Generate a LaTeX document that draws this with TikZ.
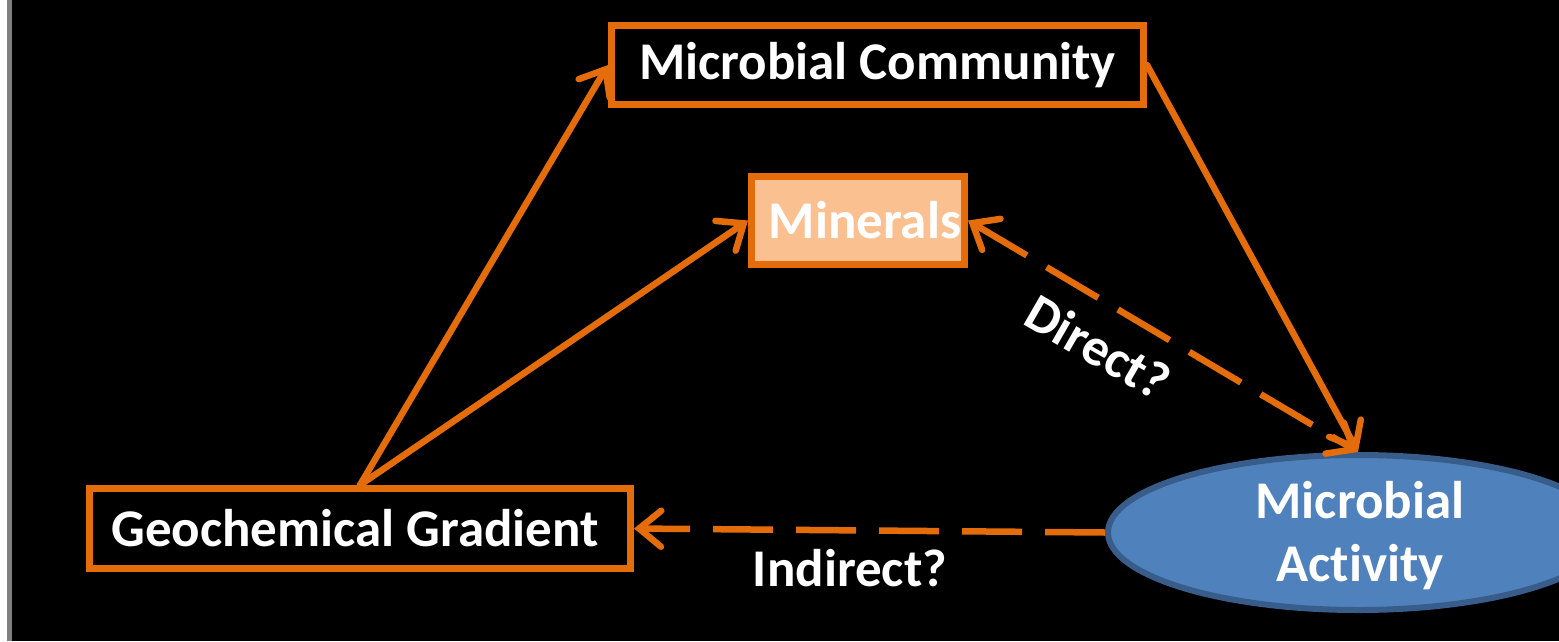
\documentclass[tikz,border=0pt]{standalone}
\usepackage{fontspec}
\setmainfont{Carlito}[Ligatures={NoCommon}]
\usetikzlibrary{arrows.meta,shapes.geometric}
\definecolor{orng}{RGB}{228,108,10}
\definecolor{minfill}{RGB}{250,192,144}
\definecolor{actfill}{RGB}{79,129,189}
\definecolor{actline}{RGB}{56,93,138}
\definecolor{edgegray}{RGB}{128,128,128}
\tikzset{
  box/.style={draw=orng, line width=7pt, fill=black, rectangle, inner sep=0pt,
    text=white, font=\fontsize{53}{63}\selectfont\bfseries},
  actv/.style={draw=actline, line width=6pt, fill=actfill, ellipse, inner sep=0pt,
    minimum width=500pt, minimum height=155pt},
  txt/.style={text=white, font=\fontsize{53}{63}\selectfont\bfseries, inner sep=0pt, align=center},
  conn/.style={draw=orng, line width=6.5pt, line cap=round,
    -{Straight Barb[length=22pt 0 0,width=36pt 0 0,line cap=round]}},
  dconn/.style={conn, dash pattern=on 60pt off 23pt, line cap=butt}
}
\begin{document}
\begin{tikzpicture}[x=1pt,y=-1pt]
\useasboundingbox (0,0) rectangle (1559,641);
\fill[white] (0,0) rectangle (1559,641);
\fill[edgegray] (7,0) rectangle (12,641);
\fill[black] (12,0) rectangle (1559,641);
% nodes
\node[box, minimum width=532pt, minimum height=79pt] (mc) at (877.5,65) {Microbial Community};
\node[box, fill=minfill, minimum width=213pt, minimum height=88pt] (min) at (858,220.5) {\hspace{14pt}Minerals};
\node[box, minimum width=541pt, minimum height=80pt] (gg) at (360,528.5) {\hspace{-10pt}Geochemical Gradient};
\node[actv] (ma) at (1358,532.5) {};
\node[txt] (matext) at (1360,536) {Microbial\\Activity};
% connectors
\draw[conn] (gg.north) -- (mc.west);
\draw[conn] (gg.north) -- (min.west);
\draw[conn] (mc.east) -- (ma.north);
\draw[dconn, {Straight Barb[length=22pt 0 0,width=36pt 0 0,line cap=round]}-{Straight Barb[length=22pt 0 0,width=36pt 0 0,line cap=round]}] (min.east) -- (ma.north);
\draw[dconn] (ma.west) -- (gg.east);
% labels
\node[txt, rotate=-30] (direct) at (1098,347) {Direct?};
\node[txt] (indirect) at (850,568) {Indirect?};
\end{tikzpicture}
\end{document}
